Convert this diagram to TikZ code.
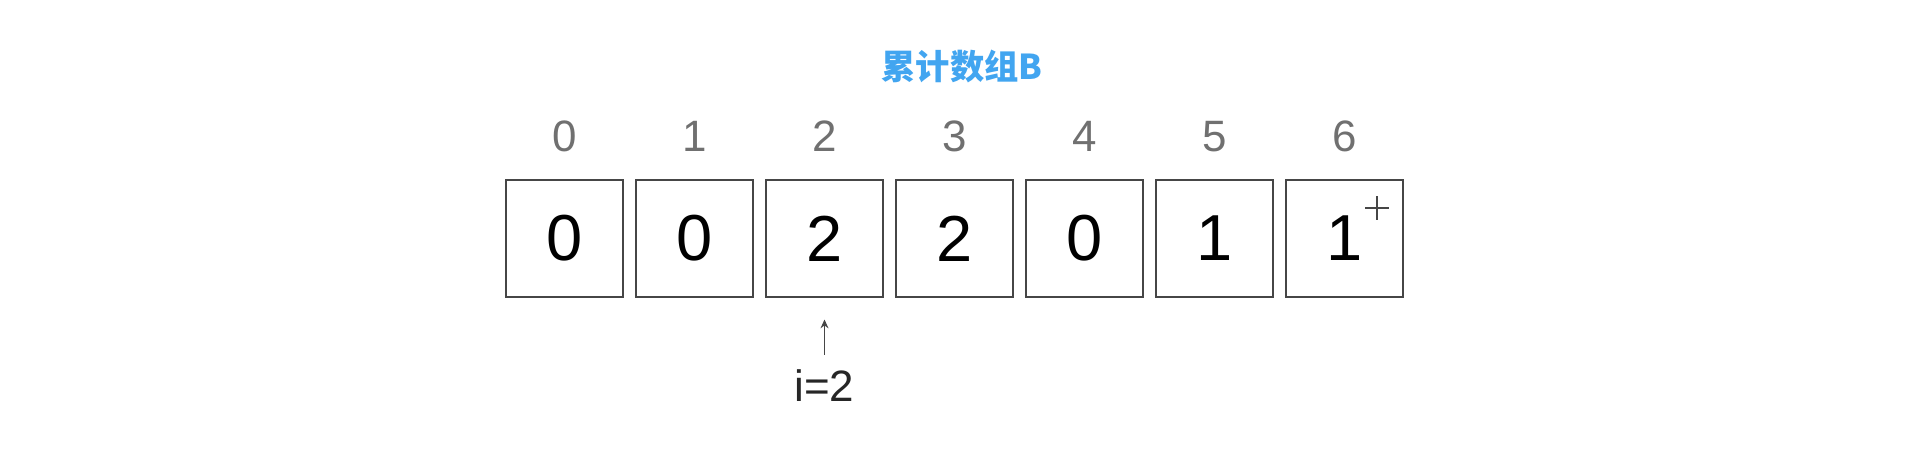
\documentclass[tikz,border=0pt]{standalone}
\usepackage{fontspec}
\setmainfont{Liberation Sans}
\newfontfamily\cjk{Noto Sans CJK SC}
\usepackage{tikz}
\usetikzlibrary{arrows.meta,positioning}
\usepackage{xcolor}
\definecolor{titleblue}{RGB}{66,165,240}
\definecolor{idxgray}{RGB}{112,112,112}
\definecolor{boxgray}{RGB}{70,70,70}
\tikzset{
    cell/.style={rectangle, draw=boxgray, line width=1.3pt, minimum size=2.34cm,
                 inner sep=0pt, outer sep=0pt, font=\fontsize{37}{40}\selectfont},
    idx/.style={inner sep=0pt, outer sep=0pt, text=idxgray,
                font=\fontsize{25}{28}\selectfont},
    ptr/.style={-{Stealth[length=5pt,width=4.5pt]}, line width=0.9pt, draw=boxgray},
}

\begin{document}
\begin{tikzpicture}[node distance=0.26cm,
    heading/.style={text=titleblue, inner sep=0pt, font=\cjk\bfseries\fontsize{19.5}{22}\selectfont},
    ilabel/.style={inner sep=0pt, text=black!85, font=\fontsize{25}{28}\selectfont},
]
    \useasboundingbox (0,0) rectangle (38.48,9.04);

    % counting array B
    \node[cell] (b0) at (11.29,4.27) {0};
    \node[cell, right=of b0] (b1) {0};
    \node[cell, right=of b1] (b2) {2};
    \node[cell, right=of b2] (b3) {2};
    \node[cell, right=of b3] (b4) {0};
    \node[cell, right=of b4] (b5) {1};
    \node[cell, right=of b5] (b6) {1};

    % indices
    \node[idx, above=0.57cm of b0] (n0) {0};
    \node[idx, above=0.57cm of b1] (n1) {1};
    \node[idx, above=0.57cm of b2] (n2) {2};
    \node[idx, above=0.57cm of b3] (n3) {3};
    \node[idx, above=0.57cm of b4] (n4) {4};
    \node[idx, above=0.57cm of b5] (n5) {5};
    \node[idx, above=0.57cm of b6] (n6) {6};

    \node[heading] (title) at (19.24,7.72) {累计数组B};

    % pointer i
    \coordinate[below=0.45cm of b2] (tip);
    \node[ilabel] (iv) at ([yshift=-1.33cm]tip) {i=2};
    \draw[ptr, shorten <=0.3cm] (iv) -- (tip);

    % cursor mark
    \coordinate (cur) at ([shift={(0.65,0.61)}]b6.center);
    \draw[boxgray, line width=0.8pt] ([xshift=-0.24cm]cur) -- ([xshift=0.24cm]cur)
        ([yshift=-0.24cm]cur) -- ([yshift=0.24cm]cur);
\end{tikzpicture}
\end{document}
